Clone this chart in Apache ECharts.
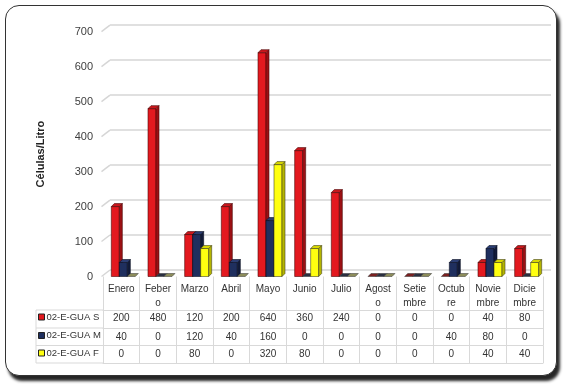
<!DOCTYPE html>
<html><head><meta charset="utf-8">
<script src="https://cdn.jsdelivr.net/npm/echarts@6/dist/echarts.min.js"></script>
<style>
html,body{margin:0;padding:0;background:#fff;}
#wrap{position:relative;width:567px;height:391px;overflow:hidden;background:#fff;}
#frame{position:absolute;left:5px;top:5px;width:550px;height:369px;border:1.5px solid #333;border-radius:14px;box-shadow:3px 5px 3px rgba(0,0,0,0.85);background:#fff;}
#chart{position:absolute;left:0;top:0;width:567px;height:391px;}
</style></head>
<body><div id="wrap"><div id="frame"></div><div id="chart"></div></div>
<script>
const categories = ['Enero','Febero','Marzo','Abril','Mayo','Junio','Julio','Agosto','Setiembre','Octubre','Noviembre','Diciembre'];
const seriesNames = ['02-E-GUA S','02-E-GUA M','02-E-GUA F'];
const valuesS = [200,480,120,200,640,360,240,0,0,0,40,80];
const valuesM = [40,0,120,40,160,0,0,0,0,40,80,0];
const valuesF = [0,0,80,0,320,80,0,0,0,0,40,40];
const yTicks = [0,100,200,300,400,500,600,700];

const allValues = [valuesS, valuesM, valuesF];
const FONT = '"Liberation Sans",Arial,sans-serif';
const faces = [
  {front:'#e3191f', side:'#9c1014', top:'#c8171c', stroke:'#4a0808'},
  {front:'#1f2f5e', side:'#121b3a', top:'#2b3d72', stroke:'#0a0f22'},
  {front:'#ffff10', side:'#b5b500', top:'#d8d800', stroke:'#444422'}
];
const offsets = [-10, -2, 6];
const BW = 8, D = 3;

function wrap(name){ return name.length > 5 ? name.slice(0,5) + '\n' + name.slice(5) : name; }

function barRender(si){
  return function(params, api){
    const cat = api.value(0), v = api.value(1);
    const top = api.coord([cat, v]);
    const base = api.coord([cat, 0]);
    const xl = top[0] + offsets[si];
    const yt = top[1], yb = base[1];
    const f = faces[si];
    const children = [];
    if (yb - yt > 0.5) {
      children.push({type:'rect', shape:{x:xl, y:yt, width:BW, height:yb-yt}, style:{fill:f.front, stroke:f.stroke, lineWidth:0.6}});
      children.push({type:'polygon', shape:{points:[[xl+BW,yt],[xl+BW+D,yt-D],[xl+BW+D,yb-D],[xl+BW,yb]]}, style:{fill:f.side, stroke:f.stroke, lineWidth:0.6}});
      children.push({type:'polygon', shape:{points:[[xl,yt],[xl+D,yt-D],[xl+BW+D,yt-D],[xl+BW,yt]]}, style:{fill:f.top, stroke:f.stroke, lineWidth:0.6}});
    } else {
      children.push({type:'polygon', shape:{points:[[xl,yb],[xl+D,yb-D],[xl+BW+D,yb-D],[xl+BW,yb]]}, style:{fill: si===2 ? '#8c8c5a' : (si===1 ? '#2a2f40' : '#7a2020'), stroke:'#333', lineWidth:0.5}});
    }
    return {type:'group', children};
  };
}

const series = seriesNames.map((name, si) => ({
  name, type:'custom', xAxisIndex:0, yAxisIndex:0,
  itemStyle:{color:faces[si].front},
  renderItem: barRender(si),
  encode:{x:0, y:1},
  data: categories.map((c, i) => [i, allValues[si][i]]),
  z: 5
}));

series.push({
  type:'custom', xAxisIndex:0, yAxisIndex:0, silent:true, z:1,
  encode:{x:0, y:1},
  data: yTicks.map(v => [0, v]),
  renderItem: function(params, api){
    const y = api.coord([0, api.value(1)])[1];
    const x0 = params.coordSys.x - 1.5;
    return {type:'line', shape:{x1:x0, y1:y, x2:x0+8.5, y2:y-6.5}, style:{stroke:'#d6d6d6', lineWidth:1.5}};
  }
});

const tblLine = {color:'#d9d9d9', width:1};
const rowOffsets = [33.5, 51.5, 69];
const rowTickLen = [18, 17.5, 17.5];
const rowMargins = [8.5, 9, 9];

const xAxes = [{
  type:'category', gridIndex:0, data:categories, position:'bottom',
  axisLine:{show:false},
  axisTick:{show:true, length:33.5, interval:0, lineStyle:tblLine},
  axisLabel:{interval:0, formatter:wrap, margin:6, fontSize:10, lineHeight:14, color:'#333', fontFamily:FONT}
}];
allValues.forEach((vals, k) => {
  xAxes.push({
    type:'category', gridIndex:0, data:categories, position:'bottom', offset:rowOffsets[k],
    axisLine:{show:true, lineStyle:tblLine},
    axisTick:{show:true, length:rowTickLen[k], interval:0, lineStyle:tblLine},
    axisLabel:{interval:0, formatter:(v, i) => String(vals[i]), verticalAlign:'middle', margin:rowMargins[k], fontSize:10, color:'#333', fontFamily:FONT}
  });
});
xAxes.push({
  type:'category', gridIndex:0, data:categories, position:'bottom', offset:86.5,
  axisLine:{show:true, lineStyle:tblLine}, axisTick:{show:false}, axisLabel:{show:false}
});
xAxes.push({type:'value', gridIndex:1, show:false, min:0, max:1});

const legendTops = [312, 330.5, 348];
const legends = seriesNames.map((n, k) => ({
  data:[n], left:38, top:legendTops[k], padding:0, itemWidth:6, itemHeight:6, icon:'rect',
  itemStyle:{borderColor:'#222', borderWidth:1},
  textStyle:{fontSize:9.5, color:'#333', fontFamily:FONT, padding:[0,0,0,-3]},
  selectedMode:false
}));

const tableLines = [310, 328, 345.5, 363].map(y => ({
  type:'line', shape:{x1:36, y1:y, x2:103, y2:y}, style:{stroke:'#d9d9d9', lineWidth:1}
}));
tableLines.push({type:'line', shape:{x1:36, y1:310, x2:36, y2:363}, style:{stroke:'#d9d9d9', lineWidth:1}});

const chart = echarts.init(document.getElementById('chart'), null, {renderer:'canvas'});
chart.setOption({
  animation:false,
  backgroundColor:'transparent',
  color: faces.map(f => f.front),
  grid:[
    {left:103, right:24, top:31.7, bottom:114.5},
    {left:110, right:16, top:25.2, bottom:121}
  ],
  xAxis: xAxes,
  yAxis:[
    {type:'value', gridIndex:0, min:0, max:700, interval:100,
     axisLabel:{margin:10, fontSize:11, color:'#404040', fontFamily:FONT},
     splitLine:{show:false}, axisLine:{show:false}, axisTick:{show:false},
     name:'Células/Litro', nameLocation:'middle', nameRotate:90, nameGap:57,
     nameTextStyle:{fontWeight:'bold', fontSize:11, color:'#222', fontFamily:FONT}},
    {type:'value', gridIndex:1, min:0, max:700, interval:100,
     axisLabel:{show:false}, axisLine:{show:false}, axisTick:{show:false},
     splitLine:{show:true, lineStyle:{color:'#d6d6d6', width:1.5}}}
  ],
  legend: legends,
  graphic: tableLines,
  series: series
});
</script></body></html>
